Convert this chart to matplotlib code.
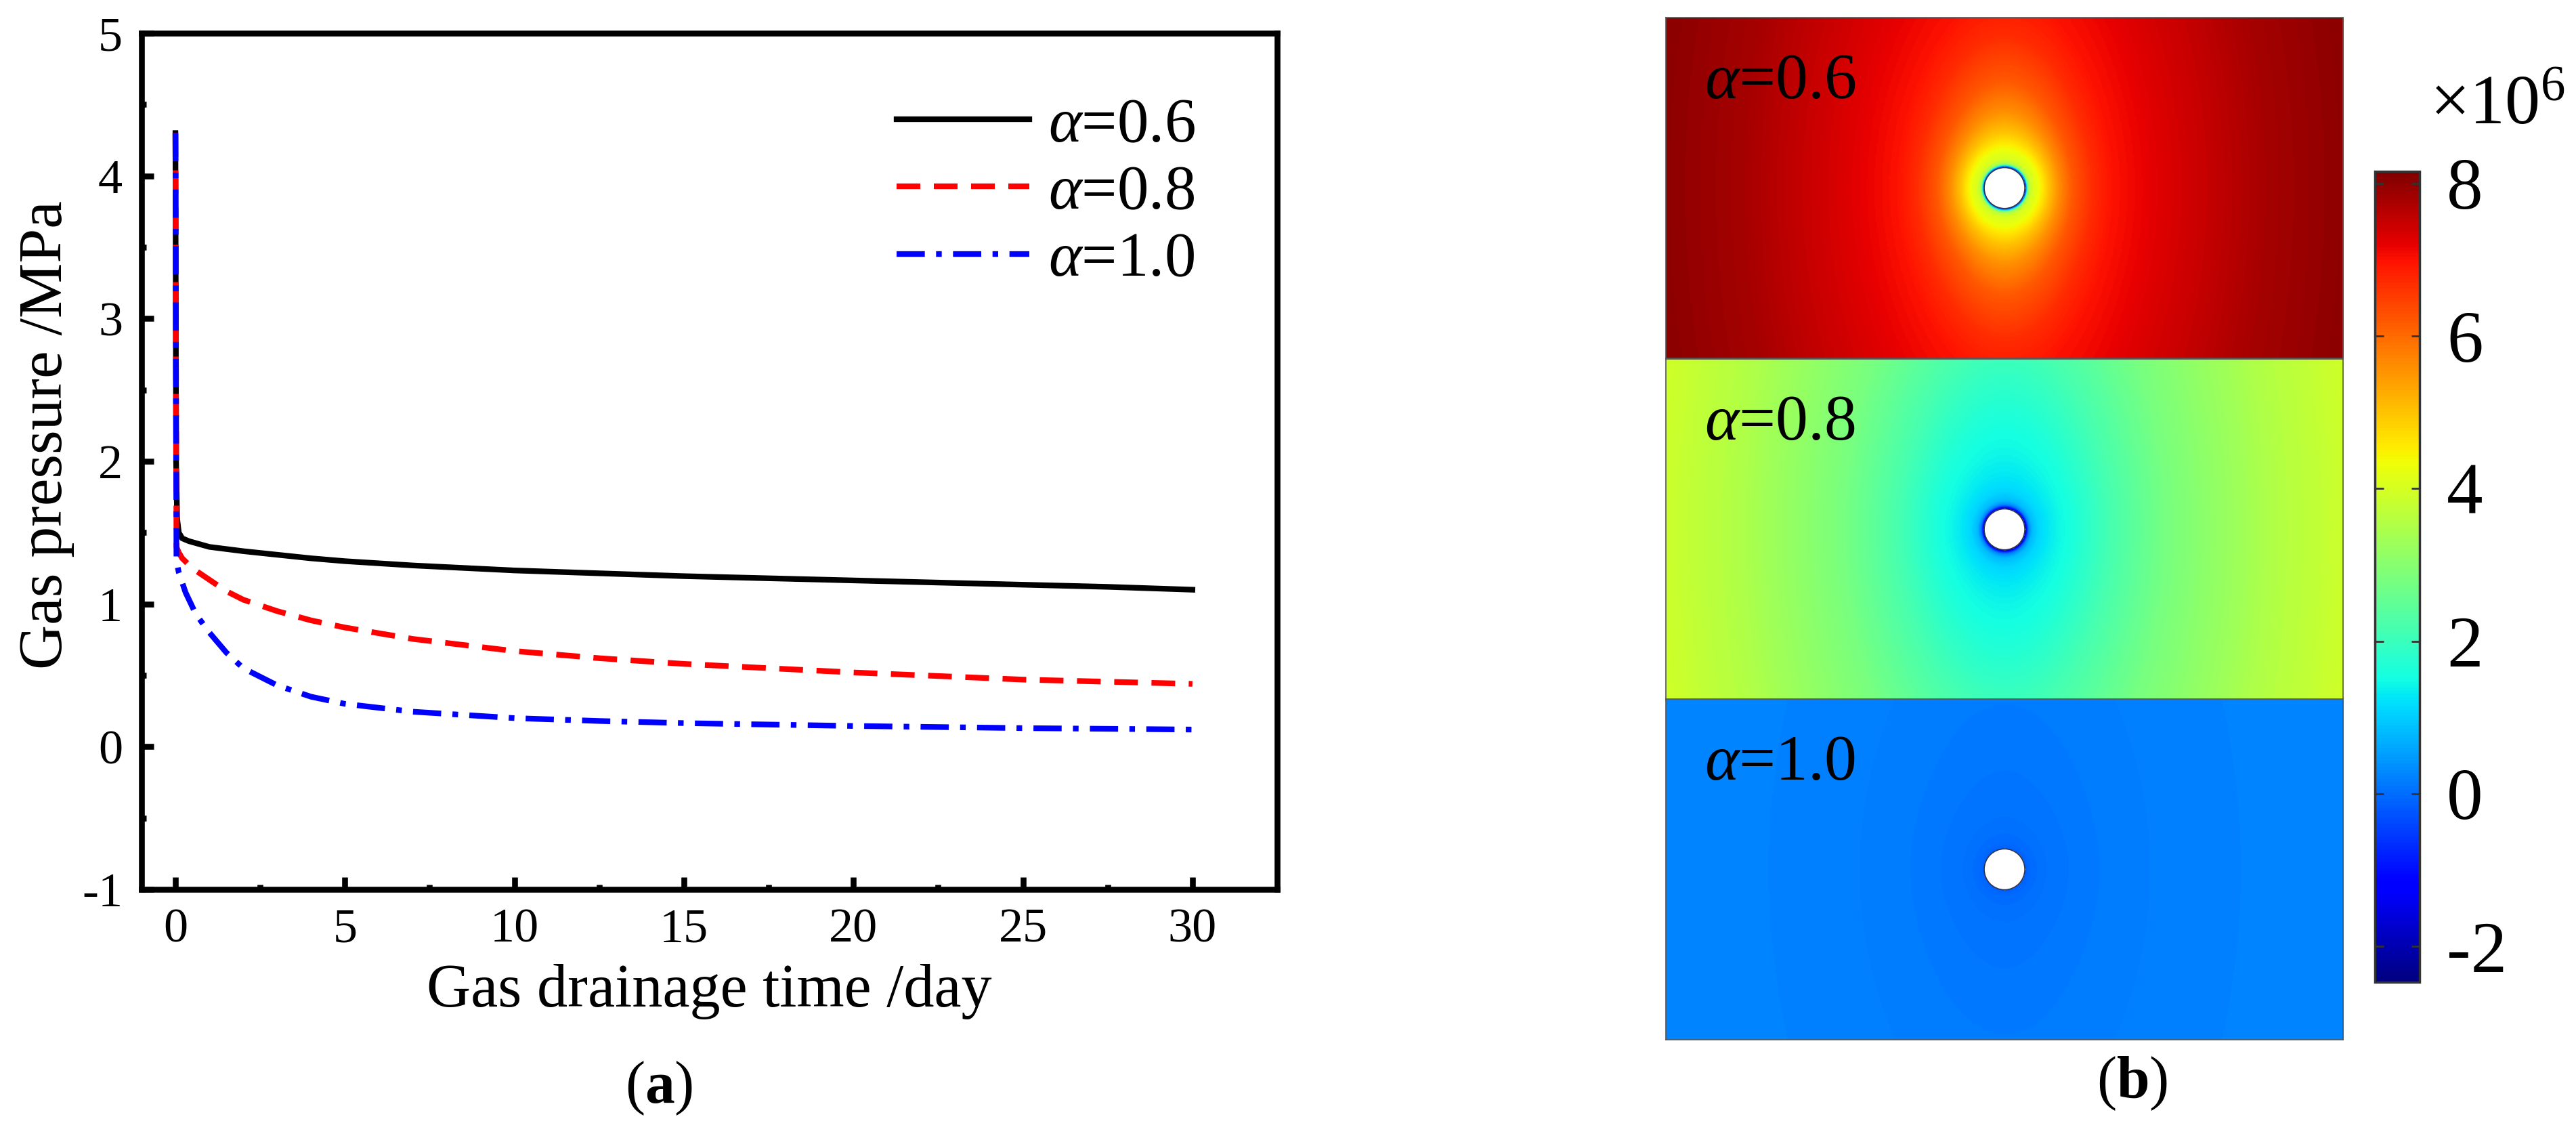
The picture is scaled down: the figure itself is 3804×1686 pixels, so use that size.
import numpy as np
import matplotlib
matplotlib.use('Agg')
import matplotlib.pyplot as plt
from matplotlib.patches import Circle

plt.rcParams['font.family'] = 'serif'
plt.rcParams['font.serif'] = ['Liberation Serif', 'DejaVu Serif']
plt.rcParams['mathtext.fontset'] = 'custom'
plt.rcParams['mathtext.rm'] = 'Liberation Serif'
plt.rcParams['mathtext.it'] = 'Liberation Serif:italic'
plt.rcParams['mathtext.bf'] = 'Liberation Serif:bold'
plt.rcParams['axes.unicode_minus'] = False

# (a) gas pressure vs drainage time
t_06 = [0, 0.02, 0.05, 0.1, 0.2, 0.4, 0.7, 1, 1.5, 2, 3, 4, 5, 7, 10, 12.5, 15, 17.5, 20, 22.5, 25, 27.5, 30]
p_06 = [4.30, 2.0, 1.60, 1.50, 1.46, 1.44, 1.42, 1.40, 1.385, 1.37, 1.345, 1.32, 1.30, 1.27, 1.235,
        1.215, 1.195, 1.18, 1.165, 1.15, 1.135, 1.12, 1.10]
t_08 = [0, 0.03, 0.1, 0.2, 0.5, 1, 1.5, 2, 3, 4, 5, 7, 10, 12.5, 15, 17.5, 20, 22.5, 25, 27.5, 30]
p_08 = [4.30, 1.40, 1.36, 1.32, 1.25, 1.17, 1.09, 1.03, 0.95, 0.885, 0.835, 0.755, 0.67, 0.62,
        0.58, 0.55, 0.52, 0.495, 0.47, 0.455, 0.44]
t_10 = [0, 0.03, 0.1, 0.3, 0.6, 1, 1.5, 2, 3, 4, 5, 7, 10, 12.5, 15, 20, 25, 30]
p_10 = [4.30, 1.30, 1.22, 1.08, 0.93, 0.80, 0.66, 0.55, 0.43, 0.35, 0.30, 0.245, 0.20, 0.18,
        0.165, 0.145, 0.13, 0.12]
labels = [r'$\alpha$=0.6', r'$\alpha$=0.8', r'$\alpha$=1.0']

# (b) pressure field (x1e6 Pa) vs distance from borehole
prof_d = [0.6, 0.65, 0.7, 0.8, 1.0, 1.3, 1.6, 2.0, 2.6, 3.2, 4.8, 7.8, 10.5]
prof_06 = [-1.5, 1.5, 3.4, 4.0, 4.3, 5.0, 5.6, 6.2, 6.7, 7.0, 7.3, 7.8, 8.05]
prof_08 = [-2.0, -0.8, 0.2, 0.8, 1.1, 1.3, 1.45, 1.6, 1.9, 2.2, 2.8, 3.5, 3.95]
prof_10 = [-0.2, -0.1, -0.05, 0.0, 0.03, 0.07, 0.09, 0.11, 0.14, 0.16, 0.2, 0.24, 0.27]
panel_labels = [r'$\alpha$=0.6', r'$\alpha$=0.8', r'$\alpha$=1.0']
cbar_ticks = [-2, 0, 2, 4, 6, 8]

fig = plt.figure(figsize=(38.04, 16.86), dpi=100)

# ---------- panel (a) ----------
ax = fig.add_axes([0.05494, 0.22123, 0.44085, 0.74970])
ax.plot(t_06, p_06, color='black', lw=6, label=labels[0])
ax.plot(t_08, p_08, color='red', lw=6, dashes=(4.2, 2.4), label=labels[1])
ax.plot(t_10, p_10, color='blue', lw=6, dashes=(5, 2, 1, 2), label=labels[2])

ax.set_xlim(-1, 32.5)
ax.set_ylim(-1, 5)
ax.set_xticks([0, 5, 10, 15, 20, 25, 30])
ax.set_xticks(np.arange(2.5, 30, 5), minor=True)
ax.set_yticks([-1, 0, 1, 2, 3, 4, 5])
ax.set_yticks(np.arange(-0.5, 5, 1), minor=True)
for s in ax.spines.values():
    s.set_linewidth(6.2)
ax.tick_params(which='both', direction='in', width=6.2, labelsize=52, top=False, right=False)
ax.tick_params(which='major', length=13, pad=20)
ax.tick_params(which='minor', length=5)
ax.set_xlabel('Gas drainage time /day', fontsize=65)
ax.set_ylabel('Gas pressure /MPa', fontsize=66)
ax.xaxis.set_label_coords(0.5, -0.087)
ax.yaxis.set_label_coords(-0.059, 0.531)
ax.legend(loc='upper left', bbox_to_anchor=(0.665, 0.925), frameon=False, fontsize=67,
          borderpad=0, borderaxespad=0, handlelength=2.1, handletextpad=0.3, labelspacing=0.15)

fig.text(973 / 3804, 1 - 1607 / 1686, r'($\mathbf{a}$)', fontsize=63, ha='center', va='center')

# ---------- panel (b) ----------
vmin, vmax = -2.47, 8.16
r0 = 0.6
xs = np.linspace(-10, 10, 601)
ys = np.linspace(-5, 5, 301)
X, Y = np.meshgrid(xs, ys)
rr = np.hypot(X, Y)
# round near the borehole, stretched vertically further out
k = 0.5 + 0.4 * np.exp(-(rr - r0) / 1.2)
da = np.hypot(X, k * Y)
d = r0 + da * (rr - r0) / np.maximum(rr, 1e-6)

bottoms = [0.6862, 0.3873, 0.0896]
for prof, lab, b in zip([prof_06, prof_08, prof_10], panel_labels, bottoms):
    pax = fig.add_axes([0.6467, b, 0.2629, 0.2983])
    field = np.ma.masked_where(rr < r0, np.interp(d, prof_d, prof))
    im = pax.imshow(field, extent=(-10, 10, -5, 5), origin='lower', cmap='jet',
                    vmin=vmin, vmax=vmax, aspect='auto', interpolation='bilinear')
    pax.add_patch(Circle((0, 0), r0, facecolor='white', edgecolor='#2a3550', lw=1.2))
    pax.set_xticks([])
    pax.set_yticks([])
    for s in pax.spines.values():
        s.set_linewidth(1.2)
        s.set_color('#555555')
    pax.text(0.057, 0.763, lab, transform=pax.transAxes, fontsize=69, va='baseline', ha='left')

cax = fig.add_axes([0.9219, 0.1400, 0.01735, 0.7100])
cb = fig.colorbar(im, cax=cax, ticks=cbar_ticks)
cb.outline.set_linewidth(2.5)
cb.outline.set_edgecolor('#333333')
cax.tick_params(direction='in', length=9, width=2, color='#333333', left=True, right=True,
                labelsize=77, pad=29)
cax.set_yticklabels([str(v) for v in cbar_ticks])

fig.text(3588 / 3804, 1 - 183 / 1686, r'×10$^{6}$', fontsize=75, ha='left', va='baseline')
fig.text(3149 / 3804, 1 - 1600 / 1686, r'($\mathbf{b}$)', fontsize=63, ha='center', va='center')

fig.savefig('out.png', dpi=100)
